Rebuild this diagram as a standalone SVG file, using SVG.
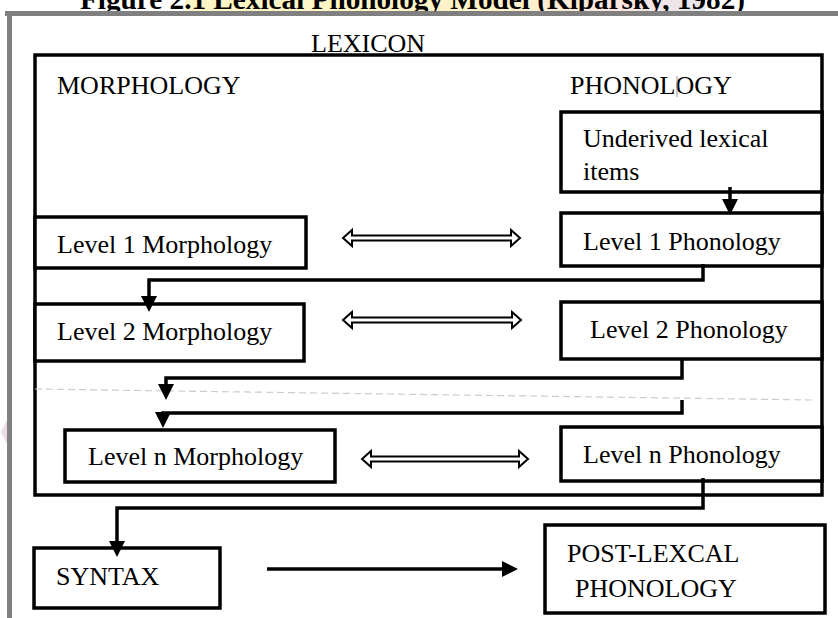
<svg xmlns="http://www.w3.org/2000/svg" width="838" height="618" viewBox="0 0 838 618">
<defs>
<linearGradient id="hl" x1="0" y1="0" x2="1" y2="0">
<stop offset="0" stop-color="#fff6c4"/>
<stop offset="0.6" stop-color="#fff3c8"/>
<stop offset="0.85" stop-color="#fbe4e0"/>
<stop offset="1" stop-color="#e4e6ef"/>
</linearGradient>
<marker id="ah" viewBox="0 0 16 16" refX="2" refY="8" markerWidth="16" markerHeight="16" markerUnits="userSpaceOnUse" orient="auto">
<path d="M0,0 L16,8 L0,16 Z" fill="#000"/>
</marker>
</defs>
<style>
.box{fill:#fff;stroke:#000;stroke-width:3.5}
.lbl{font-family:"Liberation Serif","Times New Roman",serif;font-size:26px;fill:#000}
.con{fill:none;stroke:#000;stroke-width:3.5;stroke-linejoin:miter}
.dbl{fill:#fff;stroke:#000;stroke-width:2;stroke-linejoin:miter}
</style>
<rect x="0" y="0" width="838" height="618" fill="#fff"/>
<!-- page decoration -->
<rect x="185" y="0" width="520" height="12" fill="url(#hl)"/>
<text x="80" y="9" font-family="Liberation Serif, Times New Roman, serif" font-weight="bold" font-size="29" textLength="665" lengthAdjust="spacingAndGlyphs" fill="#000">Figure 2.1 Lexical Phonology Model (Kiparsky, 1982)</text>
<polygon points="1,432 8,418 8,446" fill="#ecdbe8"/>
<rect x="5" y="11" width="833" height="5" fill="#808080"/>
<rect x="7" y="11" width="5" height="607" fill="#808080"/>

<g id="lexicon">
<rect class="box" x="35" y="55" width="787" height="440" fill="none"/>
<text class="lbl" x="311" y="52">LEXICON</text>
<text class="lbl" x="57" y="94">MORPHOLOGY</text>
<text class="lbl" x="570" y="94">PHONOLOGY</text>
<line x1="677" y1="76" x2="677" y2="97" stroke="#999" stroke-width="1"/>
</g>
<line x1="35" y1="389" x2="813" y2="400" stroke="#cccccc" stroke-width="1.2" stroke-dasharray="7 4"/>

<g id="underived">
<rect class="box" x="561" y="112" width="261" height="80"/>
<text class="lbl" x="583" y="147">Underived lexical</text>
<text class="lbl" x="583" y="180">items</text>
</g>
<g id="level1-phonology">
<rect class="box" x="561" y="213" width="261" height="53"/>
<text class="lbl" x="583" y="250">Level 1 Phonology</text>
</g>
<g id="level1-morphology">
<rect class="box" x="35" y="217" width="271" height="51"/>
<text class="lbl" x="57" y="253">Level 1 Morphology</text>
</g>
<g id="level2-morphology">
<rect class="box" x="35" y="304" width="269" height="57"/>
<text class="lbl" x="57" y="340">Level 2 Morphology</text>
</g>
<g id="level2-phonology">
<rect class="box" x="561" y="302" width="261" height="57"/>
<text class="lbl" x="590" y="338">Level 2 Phonology</text>
</g>
<g id="leveln-morphology">
<rect class="box" x="65" y="430" width="270" height="52"/>
<text class="lbl" x="88" y="465">Level n Morphology</text>
</g>
<g id="leveln-phonology">
<rect class="box" x="561" y="427" width="261" height="54"/>
<text class="lbl" x="583" y="463">Level n Phonology</text>
</g>
<g id="syntax">
<rect class="box" x="34" y="548" width="186" height="60"/>
<text class="lbl" x="56" y="585">SYNTAX</text>
</g>
<g id="postlexical">
<rect class="box" x="545" y="525" width="280" height="88"/>
<text class="lbl" x="567" y="562">POST-LEXCAL</text>
<text class="lbl" x="575" y="597">PHONOLOGY</text>
</g>

<g id="connectors">
<path class="con" stroke-width="3" d="M730,187 V201" marker-end="url(#ah)"/>
<path class="con" d="M703,264 V280 H149 V298" marker-end="url(#ah)"/>
<path class="con" d="M682,359 V378 H166 V386" marker-end="url(#ah)"/>
<path class="con" d="M682,400 V413 H163 V414" marker-end="url(#ah)"/>
<path class="con" d="M703,478 V508 H117 V543" marker-end="url(#ah)"/>
<path class="con" d="M267,569 H504" marker-end="url(#ah)"/>
<path class="dbl" d="M343,238 L352,230 L352,235.5 L511,235.5 L511,230 L520,238 L511,246 L511,240.5 L352,240.5 L352,246 Z"/>
<path class="dbl" d="M343,320 L352,312 L352,317.5 L512,317.5 L512,312 L521,320 L512,328 L512,322.5 L352,322.5 L352,328 Z"/>
<path class="dbl" d="M362,459 L371,451 L371,456.5 L519,456.5 L519,451 L528,459 L519,467 L519,461.5 L371,461.5 L371,467 Z"/>
</g>
</svg>
